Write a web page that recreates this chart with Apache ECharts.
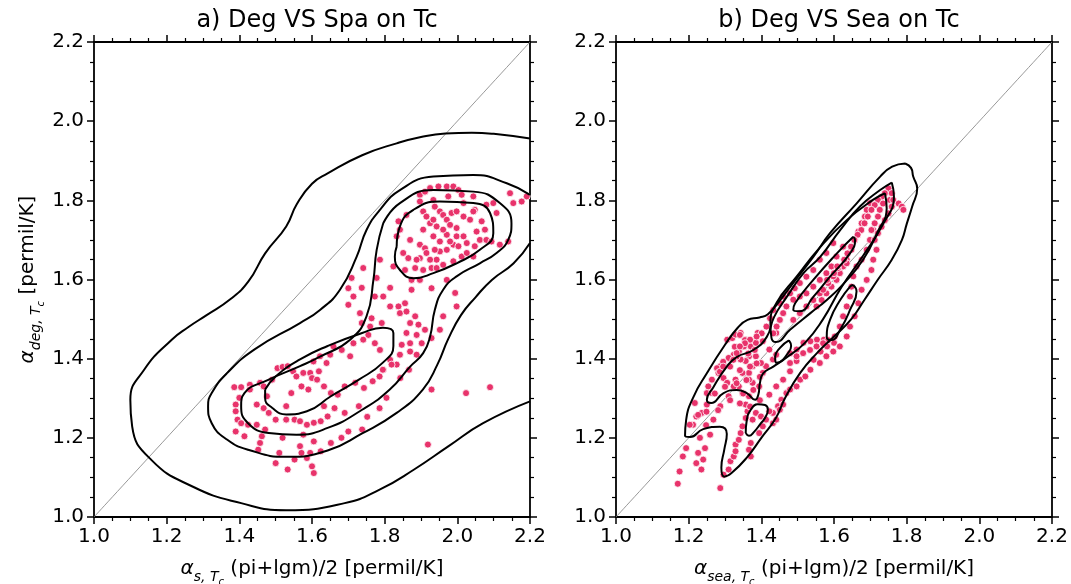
<!DOCTYPE html>
<html><head><meta charset="utf-8">
<script src="https://cdn.jsdelivr.net/npm/echarts/dist/echarts.min.js"></script>
<style>html,body{margin:0;padding:0;background:#fff}#c{width:1071px;height:584px}</style>
</head><body><div id="c"></div><script>
// ---------- DATA ----------
const panelTitles = ['a) Deg VS Spa on Tc', 'b) Deg VS Sea on Tc'];
const xTicks = [1.0, 1.2, 1.4, 1.6, 1.8, 2.0, 2.2];
const yTicks = [1.0, 1.2, 1.4, 1.6, 1.8, 2.0, 2.2];
const diagonal = [[1.0, 1.0], [2.2, 2.2]];

// panel a scatter (x = alpha_s, y = alpha_deg)
const aPointsUpper = [[1.897,1.814],[1.911,1.822],[1.925,1.831],[1.948,1.835],[1.971,1.835],[1.989,1.835],[2.003,1.826],[2.012,1.814],[1.897,1.797],[1.934,1.801],[1.975,1.810],[2.017,1.793],[2.044,1.810],[2.048,1.776],[2.080,1.789],[2.099,1.793],[2.108,1.768],[2.145,1.818],[2.154,1.793],[2.177,1.797],[2.191,1.810],[1.860,1.763],[1.906,1.772],[1.915,1.759],[1.938,1.784],[1.952,1.772],[1.961,1.763],[1.971,1.751],[1.984,1.768],[1.998,1.772],[2.017,1.759],[2.035,1.751],[2.044,1.772],[2.067,1.747],[2.076,1.726],[2.053,1.721],[2.062,1.700],[2.080,1.700],[2.094,1.696],[2.117,1.688],[2.140,1.696],[1.838,1.747],[1.842,1.726],[1.833,1.709],[1.870,1.700],[1.897,1.688],[1.911,1.679],[1.897,1.654],[1.888,1.650],[1.865,1.654],[1.851,1.667],[1.824,1.633],[1.856,1.624],[1.884,1.629],[1.906,1.624],[1.929,1.629],[1.943,1.629],[1.961,1.637],[1.989,1.646],[2.012,1.658],[2.026,1.667],[1.943,1.650],[1.952,1.671],[1.971,1.675],[1.989,1.688],[2.003,1.684],[2.026,1.692],[2.048,1.684],[2.044,1.658],[1.925,1.742],[1.943,1.734],[1.980,1.738],[1.998,1.730],[1.934,1.709],[1.952,1.696],[1.980,1.696],[1.971,1.713],[1.938,1.675],[1.915,1.667],[1.925,1.650],[1.906,1.726],[1.934,1.751],[1.961,1.726],[1.998,1.709],[2.017,1.709]];
const aPointsMiddle = [[1.787,1.650],[1.741,1.629],[1.709,1.604],[1.737,1.579],[1.778,1.604],[1.815,1.579],[1.874,1.599],[1.897,1.599],[1.929,1.578],[1.971,1.599],[1.994,1.566],[1.998,1.532],[1.961,1.507],[1.874,1.574],[1.856,1.540],[1.838,1.532],[1.815,1.532],[1.796,1.557],[1.773,1.557],[1.700,1.578],[1.714,1.557],[1.700,1.536],[1.732,1.515],[1.764,1.502],[1.792,1.490],[1.760,1.481],[1.737,1.490],[1.842,1.515],[1.860,1.519],[1.884,1.507],[1.870,1.490],[1.893,1.486],[1.888,1.460],[1.860,1.465],[1.870,1.439],[1.847,1.435],[1.870,1.418],[1.911,1.473],[1.929,1.452],[1.952,1.473],[1.902,1.439],[1.888,1.410],[1.842,1.410],[1.833,1.385],[1.787,1.422],[1.773,1.439],[1.755,1.460],[1.741,1.448],[1.714,1.439],[1.682,1.422],[1.659,1.431],[1.650,1.410],[1.622,1.406],[1.604,1.393],[1.640,1.389],[1.705,1.406],[1.815,1.397],[1.796,1.372]];
const aPointsLower = [[1.386,1.328],[1.405,1.328],[1.429,1.334],[1.400,1.301],[1.429,1.322],[1.457,1.339],[1.467,1.330],[1.490,1.347],[1.505,1.376],[1.519,1.379],[1.533,1.381],[1.548,1.368],[1.557,1.355],[1.576,1.364],[1.595,1.364],[1.600,1.351],[1.619,1.368],[1.390,1.284],[1.390,1.267],[1.395,1.246],[1.405,1.237],[1.424,1.233],[1.390,1.216],[1.414,1.204],[1.448,1.233],[1.448,1.284],[1.476,1.305],[1.467,1.275],[1.481,1.263],[1.500,1.246],[1.529,1.246],[1.552,1.246],[1.567,1.242],[1.586,1.233],[1.605,1.238],[1.624,1.242],[1.643,1.254],[1.662,1.275],[1.529,1.280],[1.543,1.313],[1.571,1.330],[1.590,1.322],[1.614,1.347],[1.633,1.330],[1.652,1.313],[1.671,1.309],[1.690,1.330],[1.719,1.339],[1.743,1.326],[1.767,1.343],[1.786,1.355],[1.795,1.372],[1.819,1.385],[1.471,1.221],[1.462,1.204],[1.457,1.187],[1.452,1.170],[1.519,1.200],[1.567,1.179],[1.595,1.162],[1.624,1.166],[1.652,1.187],[1.681,1.200],[1.700,1.216],[1.738,1.221],[1.752,1.253],[1.786,1.275],[1.805,1.301],[1.690,1.263],[1.729,1.280],[1.633,1.280],[1.500,1.136],[1.533,1.120],[1.552,1.145],[1.571,1.162],[1.586,1.149],[1.600,1.128],[1.605,1.111],[1.510,1.162],[1.576,1.208],[1.605,1.191],[1.929,1.322],[2.024,1.313],[2.090,1.328],[1.919,1.183],[1.867,1.372],[1.843,1.351]];

// panel a density contours
const aContour1 = [[2.2,1.956],[2.1,1.968],[2.04,1.971],[1.967,1.969],[1.9,1.960],[1.833,1.944],[1.738,1.914],[1.643,1.868],[1.600,1.842],[1.558,1.790],[1.529,1.734],[1.471,1.666],[1.425,1.595],[1.375,1.550],[1.310,1.510],[1.260,1.480],[1.214,1.448],[1.138,1.372],[1.100,1.296],[1.105,1.229],[1.157,1.145],[1.271,1.077],[1.405,1.035],[1.529,1.017],[1.690,1.035],[1.786,1.069],[1.881,1.120],[1.976,1.179],[2.071,1.237],[2.2,1.292]];
const aContour2 = [[2.2,1.814],[2.136,1.843],[2.044,1.864],[1.934,1.860],[1.842,1.826],[1.787,1.776],[1.750,1.725],[1.723,1.658],[1.677,1.574],[1.622,1.523],[1.567,1.490],[1.443,1.424],[1.367,1.364],[1.324,1.313],[1.314,1.280],[1.324,1.237],[1.367,1.195],[1.424,1.170],[1.529,1.152],[1.643,1.168],[1.738,1.211],[1.833,1.263],[1.905,1.322],[1.945,1.385],[1.975,1.450],[2.010,1.510],[2.050,1.555],[2.095,1.599],[2.155,1.641],[2.2,1.692]];
const aContour3 = [[1.796,1.742],[1.842,1.793],[1.934,1.826],[2.044,1.822],[2.117,1.793],[2.149,1.742],[2.140,1.700],[2.108,1.667],[2.062,1.641],[1.998,1.608],[1.961,1.574],[1.938,1.523],[1.925,1.456],[1.906,1.414],[1.870,1.380],[1.814,1.322],[1.738,1.271],[1.643,1.225],[1.557,1.208],[1.481,1.212],[1.424,1.237],[1.405,1.280],[1.414,1.313],[1.481,1.347],[1.567,1.381],[1.622,1.405],[1.705,1.448],[1.750,1.507],[1.769,1.599],[1.778,1.675],[1.796,1.742]];
const aContour4a = [[1.833,1.683],[1.842,1.734],[1.879,1.776],[1.952,1.797],[2.044,1.793],[2.090,1.768],[2.099,1.717],[2.062,1.675],[1.998,1.641],[1.934,1.616],[1.879,1.603],[1.842,1.624],[1.828,1.658],[1.833,1.683]];
const aContour4b = [[1.471,1.322],[1.500,1.355],[1.567,1.398],[1.643,1.432],[1.738,1.465],[1.795,1.478],[1.824,1.465],[1.824,1.432],[1.795,1.390],[1.729,1.347],[1.652,1.305],[1.586,1.267],[1.529,1.259],[1.490,1.276],[1.471,1.300],[1.471,1.322]];

// panel b scatter (x = alpha_sea, y = alpha_deg)
const bPointsLower = [[1.170,1.084],[1.175,1.115],[1.184,1.153],[1.193,1.174],[1.221,1.136],[1.226,1.162],[1.235,1.120],[1.240,1.145],[1.245,1.174],[1.248,1.232],[1.231,1.200],[1.259,1.208],[1.268,1.246],[1.287,1.073],[1.287,1.280],[1.296,1.107],[1.310,1.120],[1.315,1.141],[1.324,1.153],[1.329,1.183],[1.329,1.166],[1.338,1.195],[1.343,1.212],[1.348,1.229],[1.357,1.250],[1.362,1.267],[1.357,1.284],[1.366,1.305],[1.348,1.313],[1.371,1.153],[1.366,1.170],[1.371,1.187],[1.376,1.246],[1.385,1.263],[1.399,1.254],[1.404,1.229],[1.394,1.212],[1.413,1.246],[1.432,1.263],[1.446,1.280],[1.455,1.296],[1.469,1.313],[1.432,1.237],[1.441,1.246],[1.451,1.271],[1.460,1.284],[1.422,1.267],[1.479,1.322],[1.497,1.330],[1.507,1.347],[1.521,1.355],[1.535,1.372],[1.544,1.397],[1.563,1.418],[1.581,1.431],[1.600,1.440],[1.572,1.448],[1.553,1.448],[1.535,1.444],[1.516,1.440],[1.497,1.423],[1.479,1.414],[1.497,1.394],[1.479,1.368],[1.460,1.347],[1.441,1.330],[1.422,1.309],[1.404,1.364],[1.413,1.381],[1.432,1.398],[1.441,1.410],[1.422,1.423],[1.404,1.444],[1.390,1.465],[1.441,1.465],[1.306,1.448],[1.320,1.452],[1.329,1.461],[1.343,1.465],[1.352,1.431],[1.338,1.418],[1.324,1.410],[1.310,1.402],[1.296,1.385],[1.287,1.381],[1.278,1.376],[1.282,1.364],[1.296,1.351],[1.306,1.339],[1.264,1.347],[1.254,1.330],[1.250,1.313],[1.264,1.313],[1.250,1.284],[1.236,1.263],[1.221,1.254],[1.212,1.233],[1.203,1.233],[1.217,1.288],[1.385,1.406],[1.376,1.381],[1.366,1.364],[1.348,1.364],[1.329,1.347],[1.338,1.330],[1.324,1.330],[1.310,1.305],[1.366,1.406],[1.371,1.431],[1.385,1.440],[1.376,1.339],[1.394,1.330],[1.366,1.347],[1.399,1.389],[1.357,1.394],[1.343,1.398],[1.357,1.448]];
const bPointsMid = [[1.341,1.460],[1.355,1.447],[1.327,1.430],[1.364,1.413],[1.382,1.422],[1.332,1.405],[1.295,1.392],[1.314,1.380],[1.286,1.367],[1.341,1.371],[1.369,1.380],[1.387,1.388],[1.396,1.354],[1.359,1.346],[1.332,1.338],[1.300,1.329],[1.272,1.312],[1.350,1.312],[1.378,1.321],[1.314,1.295],[1.341,1.287],[1.281,1.270],[1.249,1.266],[1.226,1.258],[1.369,1.279],[1.396,1.295]];
const bPointsUpper = [[1.699,1.793],[1.690,1.776],[1.685,1.759],[1.676,1.742],[1.667,1.721],[1.657,1.700],[1.648,1.675],[1.635,1.650],[1.625,1.633],[1.616,1.616],[1.607,1.599],[1.593,1.582],[1.579,1.565],[1.566,1.548],[1.552,1.532],[1.625,1.683],[1.607,1.658],[1.593,1.633],[1.579,1.616],[1.561,1.599],[1.543,1.582],[1.524,1.565],[1.506,1.557],[1.488,1.549],[1.469,1.532],[1.460,1.515],[1.451,1.498],[1.442,1.481],[1.433,1.464],[1.598,1.692],[1.579,1.667],[1.561,1.650],[1.543,1.624],[1.524,1.607],[1.506,1.591],[1.492,1.578],[1.479,1.565],[1.460,1.557],[1.451,1.540],[1.433,1.523],[1.424,1.502],[1.414,1.481],[1.401,1.464],[1.387,1.456],[1.369,1.448],[1.355,1.439],[1.341,1.431],[1.332,1.414],[1.323,1.397],[1.295,1.380],[1.708,1.725],[1.699,1.700],[1.690,1.675],[1.676,1.650],[1.662,1.633],[1.653,1.608],[1.648,1.582],[1.644,1.557],[1.635,1.532],[1.625,1.507],[1.616,1.481],[1.602,1.456],[1.584,1.447],[1.570,1.439],[1.552,1.431],[1.534,1.422],[1.515,1.414],[1.497,1.406],[1.479,1.389],[1.717,1.675],[1.708,1.650],[1.703,1.624],[1.690,1.599],[1.676,1.574],[1.667,1.540],[1.657,1.507],[1.644,1.481],[1.635,1.456],[1.616,1.431],[1.598,1.418],[1.579,1.406],[1.561,1.389],[1.561,1.565],[1.543,1.548],[1.524,1.532],[1.506,1.515],[1.488,1.498],[1.570,1.574],[1.584,1.591],[1.598,1.608],[1.611,1.629],[1.635,1.641],[1.750,1.830],[1.740,1.818],[1.731,1.809],[1.759,1.818],[1.754,1.801],[1.763,1.801],[1.778,1.792],[1.787,1.784],[1.791,1.776],[1.721,1.801],[1.712,1.788],[1.703,1.776],[1.693,1.759],[1.735,1.792],[1.726,1.776],[1.721,1.759],[1.712,1.742],[1.703,1.725],[1.759,1.784],[1.750,1.767],[1.740,1.750],[1.731,1.733],[1.721,1.717],[1.712,1.700],[1.684,1.742],[1.675,1.725],[1.665,1.713],[1.656,1.700],[1.647,1.683],[1.637,1.666],[1.628,1.650],[1.609,1.633],[1.600,1.616],[1.581,1.599]];

// panel b density contours
const bContour1 = [[1.796,1.893],[1.812,1.882],[1.818,1.860],[1.829,1.830],[1.815,1.784],[1.800,1.740],[1.787,1.700],[1.759,1.650],[1.721,1.600],[1.684,1.549],[1.647,1.499],[1.600,1.456],[1.553,1.414],[1.507,1.364],[1.465,1.300],[1.440,1.250],[1.400,1.200],[1.360,1.150],[1.318,1.111],[1.298,1.102],[1.290,1.125],[1.298,1.170],[1.305,1.210],[1.286,1.228],[1.240,1.222],[1.204,1.202],[1.190,1.205],[1.193,1.245],[1.213,1.303],[1.250,1.363],[1.300,1.435],[1.335,1.478],[1.362,1.498],[1.395,1.504],[1.418,1.512],[1.452,1.548],[1.479,1.581],[1.543,1.657],[1.589,1.717],[1.663,1.793],[1.727,1.860],[1.760,1.885],[1.796,1.893]];
const bContour2 = [[1.759,1.845],[1.727,1.826],[1.672,1.785],[1.617,1.725],[1.562,1.657],[1.516,1.616],[1.470,1.556],[1.435,1.505],[1.415,1.455],[1.378,1.422],[1.332,1.404],[1.305,1.380],[1.268,1.328],[1.250,1.296],[1.262,1.288],[1.296,1.313],[1.332,1.321],[1.360,1.313],[1.383,1.296],[1.392,1.310],[1.396,1.338],[1.405,1.363],[1.433,1.380],[1.465,1.400],[1.520,1.440],[1.570,1.500],[1.620,1.580],[1.680,1.660],[1.735,1.740],[1.765,1.810],[1.759,1.845]];
const bContour3 = [[1.740,1.818],[1.707,1.801],[1.635,1.750],[1.562,1.682],[1.497,1.607],[1.442,1.541],[1.425,1.490],[1.428,1.452],[1.440,1.442],[1.479,1.473],[1.535,1.515],[1.581,1.549],[1.628,1.591],[1.680,1.650],[1.720,1.720],[1.745,1.780],[1.740,1.818]];
const bContour4 = [[1.653,1.708],[1.608,1.666],[1.543,1.599],[1.493,1.540],[1.488,1.523],[1.506,1.520],[1.543,1.556],[1.589,1.607],[1.644,1.666],[1.658,1.700],[1.653,1.708]];
const bContour5 = [[1.653,1.586],[1.662,1.570],[1.644,1.523],[1.617,1.473],[1.594,1.447],[1.580,1.455],[1.589,1.498],[1.617,1.548],[1.644,1.582],[1.653,1.586]];
const bContour6 = [[1.476,1.446],[1.482,1.432],[1.470,1.410],[1.452,1.392],[1.440,1.390],[1.438,1.405],[1.452,1.428],[1.476,1.446]];
const bContour7 = [[1.357,1.212],[1.360,1.245],[1.371,1.271],[1.390,1.285],[1.410,1.283],[1.418,1.271],[1.410,1.250],[1.399,1.237],[1.380,1.215],[1.366,1.205],[1.357,1.212]];

// ---------- CHART ----------
const FONT = 'DejaVu Sans';
const PINK = '#e8336b';
const grids = [
  {left: 94, top: 42, width: 436, height: 475, containLabel: false, outerBoundsMode: 'none'},
  {left: 616, top: 42, width: 436, height: 475, containLabel: false, outerBoundsMode: 'none'}
];
const rich = {
  g: {fontStyle: 'italic', fontSize: 20, fontFamily: FONT, color: '#000'},
  s: {fontStyle: 'italic', fontSize: 14, fontFamily: FONT, color: '#000', verticalAlign: 'bottom', lineHeight: 14, padding: [0,0,-5,0]},
  ss: {fontStyle: 'italic', fontSize: 10, fontFamily: FONT, color: '#000', verticalAlign: 'bottom', lineHeight: 10, padding: [0,0,-8,0]},
  t: {fontSize: 20, fontFamily: FONT, color: '#000'}
};
function axisCommon(gridIndex, position, showLabel) {
  return {
    type: 'value', gridIndex, position, min: xTicks[0], max: xTicks[xTicks.length-1], interval: 0.2,
    axisLine: {show: true, onZero: false, lineStyle: {color: '#000', width: 1.8}},
    axisTick: {show: true, inside: false, length: 7, lineStyle: {color: '#000', width: 1.5}},
    minorTick: {show: true, splitNumber: 4, length: 4, lineStyle: {color: '#000', width: 1.2}},
    splitLine: {show: false}, minorSplitLine: {show: false},
    axisLabel: {show: showLabel, color: '#000', fontSize: 20, fontFamily: FONT, margin: 10,
      formatter: v => v.toFixed(1)}
  };
}
const xAxes = [], yAxes = [];
const xNames = ['{g|α}{s|s, T}{ss|c}{t| (pi+lgm)/2 [permil/K]}', '{g|α}{s|sea, T}{ss|c}{t| (pi+lgm)/2 [permil/K]}'];
[0,1].forEach(g => {
  const xb = axisCommon(g, 'bottom', true);
  xb.name = xNames[g]; xb.nameLocation = 'middle'; xb.nameGap = 42;
  xb.nameTextStyle = {rich};
  xAxes.push(xb);
  xAxes.push(axisCommon(g, 'top', false));
  const yl = axisCommon(g, 'left', true);
  yl.min = yTicks[0]; yl.max = yTicks[yTicks.length-1];
  if (g === 0) {
    yl.name = '{g|α}{s|deg, T}{ss|c}{t| [permil/K]}';
    yl.nameLocation = 'middle'; yl.nameGap = 56; yl.nameRotate = 90;
    yl.nameTextStyle = {rich};
  }
  yAxes.push(yl);
  const yr = axisCommon(g, 'right', false);
  yr.min = yTicks[0]; yr.max = yTicks[yTicks.length-1];
  yAxes.push(yr);
});

function lineSeries(g, data, color, width, z) {
  return {type: 'line', xAxisIndex: g*2, yAxisIndex: g*2, data, smooth: 0.5, showSymbol: false, symbol: 'none',
    lineStyle: {color, width}, clip: true, silent: true, animation: false, z};
}
function scatterSeries(g, data) {
  return {type: 'scatter', xAxisIndex: g*2, yAxisIndex: g*2, data, symbolSize: 7,
    itemStyle: {color: PINK, borderColor: '#fff', borderWidth: 0.8, opacity: 1}, animation: false, z: 3};
}
const series = [
  lineSeries(0, diagonal, '#8c8c8c', 0.9, 2),
  scatterSeries(0, aPointsUpper), scatterSeries(0, aPointsMiddle), scatterSeries(0, aPointsLower),
  lineSeries(0, aContour1, '#000', 2, 5), lineSeries(0, aContour2, '#000', 2, 5),
  lineSeries(0, aContour3, '#000', 2, 5), lineSeries(0, aContour4a, '#000', 2, 5), lineSeries(0, aContour4b, '#000', 2, 5),
  lineSeries(1, diagonal, '#8c8c8c', 0.9, 2),
  scatterSeries(1, bPointsLower), scatterSeries(1, bPointsMid), scatterSeries(1, bPointsUpper),
  lineSeries(1, bContour1, '#000', 2, 5), lineSeries(1, bContour2, '#000', 2, 5), lineSeries(1, bContour3, '#000', 2, 5),
  lineSeries(1, bContour4, '#000', 2, 5), lineSeries(1, bContour5, '#000', 2, 5), lineSeries(1, bContour6, '#000', 2, 5),
  lineSeries(1, bContour7, '#000', 2, 5)
];
const chart = echarts.init(document.getElementById('c'), null, {renderer: 'canvas'});
chart.setOption({
  backgroundColor: '#fff',
  animation: false,
  title: panelTitles.map((t, i) => ({
    text: t, left: grids[i].left + grids[i].width/2, top: 4, textAlign: 'center',
    textStyle: {fontSize: 24, fontWeight: 'normal', fontFamily: FONT, color: '#000'}
  })),
  grid: grids,
  xAxis: xAxes,
  yAxis: yAxes,
  series
});
</script></body></html>
